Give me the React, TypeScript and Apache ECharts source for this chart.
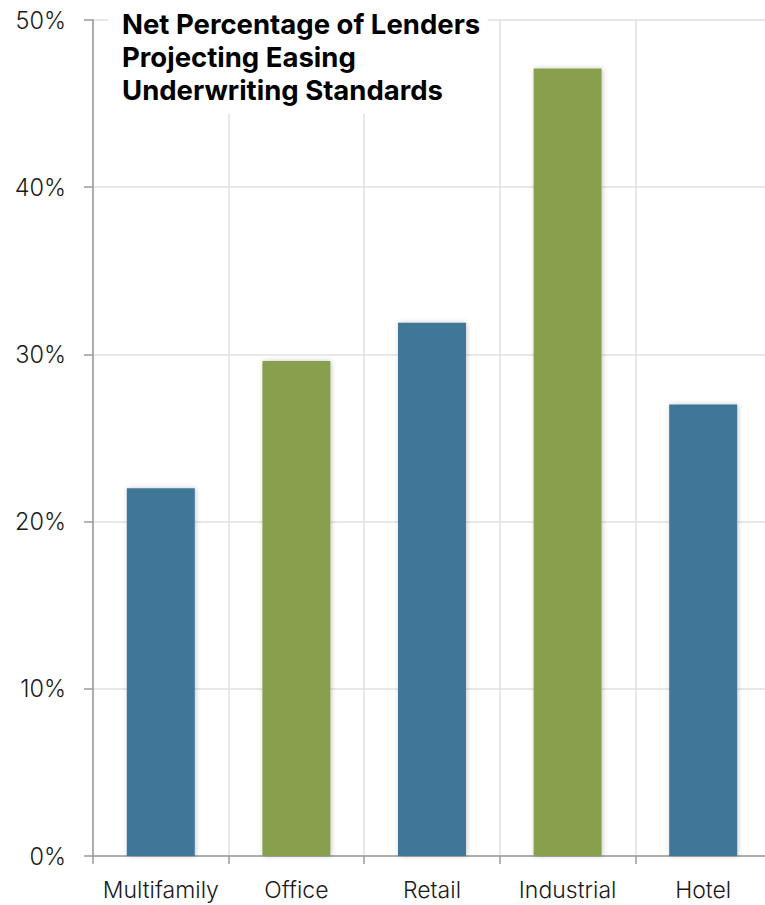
import React, { useEffect, useRef } from "react";
import * as echarts from "echarts";

const categories = ["Multifamily", "Office", "Retail", "Industrial", "Hotel"];
const values = [22, 29.6, 31.9, 47.1, 27];
const barColors = ["#407697", "#88A04D", "#407697", "#88A04D", "#407697"];
const titleLines = ["Net Percentage of Lenders", "Projecting Easing", "Underwriting Standards"];

const FONT = "Inter, 'Liberation Sans', Arial, Helvetica, sans-serif";

export default function App() {
  const ref = useRef<HTMLDivElement>(null);

  useEffect(() => {
    if (!ref.current) return;
    const chart = echarts.init(ref.current, null, { renderer: "svg" });
    chart.setOption({
      animation: false,
      backgroundColor: "#ffffff",
      title: {
        text: titleLines.join("\n"),
        left: 108,
        top: 4,
        padding: [3, 8, 8, 14],
        backgroundColor: "#ffffff",
        textStyle: {
          fontFamily: FONT,
          fontWeight: "bold",
          fontSize: 27.5,
          lineHeight: 33,
          color: "#000000",
        },
      },
      grid: { left: 93, right: 0, top: 20, bottom: 49, containLabel: false },
      xAxis: {
        type: "category",
        data: categories,
        boundaryGap: true,
        axisLine: { lineStyle: { color: "#9a9a9a", width: 1.5 } },
        axisTick: { show: true, interval: 0, length: 8, lineStyle: { color: "#9a9a9a", width: 1.5 } },
        axisLabel: { interval: 0, fontFamily: FONT, fontSize: 23, fontWeight: 300, color: "#1a1a1a", margin: 22 },
        splitLine: { show: true, interval: 0, lineStyle: { color: "#e0e0e0", width: 1.5 } },
      },
      yAxis: {
        type: "value",
        min: 0,
        max: 50,
        interval: 10,
        axisLine: { show: true, lineStyle: { color: "#9a9a9a", width: 1.5 } },
        axisTick: { show: true, length: 9, lineStyle: { color: "#9a9a9a", width: 1.5 } },
        axisLabel: {
          fontFamily: FONT,
          fontSize: 23.5,
          fontWeight: 300,
          color: "#1a1a1a",
          margin: 27,
          formatter: (v: number) => `${v}%`,
        },
        splitLine: { show: true, lineStyle: { color: "#e0e0e0", width: 1.5 } },
      },
      series: [
        {
          type: "bar",
          barWidth: 68,
          data: values.map((v, i) => ({
            value: v,
            itemStyle: {
              color: barColors[i],
              shadowBlur: 5,
              shadowColor: "rgba(0,0,0,0.22)",
              shadowOffsetX: 1,
              shadowOffsetY: 0,
            },
          })),
        },
      ],
    });
    return () => chart.dispose();
  }, []);

  // The plot area runs a few pixels past the right edge of the frame.
  return (
    <div style={{ position: "absolute", left: 0, top: 0, width: 765, height: 905, overflow: "hidden" }}>
      <div ref={ref} style={{ width: 771, height: 905 }} />
    </div>
  );
}
